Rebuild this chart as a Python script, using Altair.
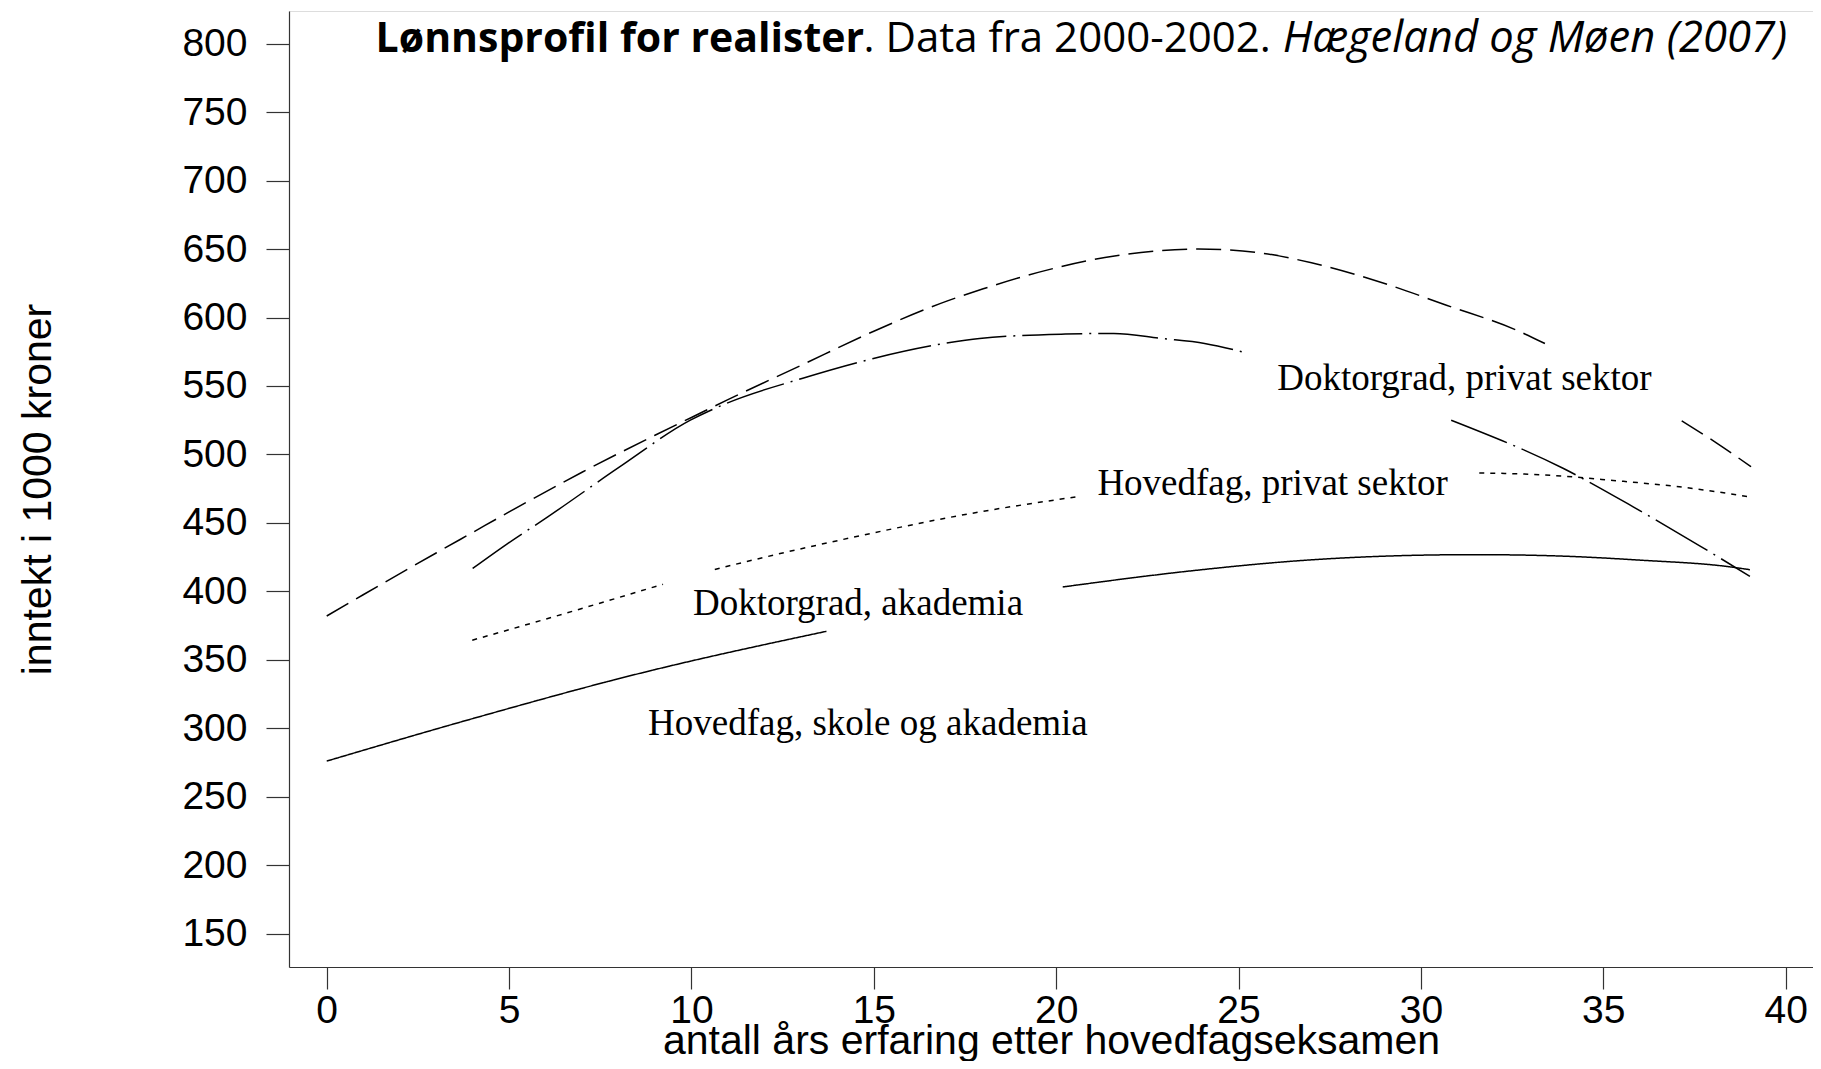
import altair as alt
import pandas as pd

# ---- curve A (long dashes), two visible pieces ----
a1_x = [0, 1, 3, 4, 5, 7, 9, 10, 11, 13, 15, 17, 18, 19.8, 21.6, 23.9, 25.5, 27, 29.1, 30.7, 32.6, 33.4]
a1_y = [382, 397.5, 428, 443, 458, 487, 514, 527, 540, 565, 590, 612, 621, 635, 645, 650, 647.5, 640, 624, 609, 591, 581]
a2_x = [37.15, 38.1, 39.05]
a2_y = [524.5, 508.5, 491]

# ---- curve B (dash-dot) ----
b1_x = [4.0, 4.96, 6.06, 8.01, 9.97, 10.95, 13.03, 14.99, 16.95, 17.9, 20.25, 21.58, 22.9, 24.07, 25.2]
b1_y = [416.7, 434.9, 454.4, 490.5, 525, 537.2, 555.5, 570.1, 581.1, 584.7, 587.9, 588.4, 584.7, 581.1, 574.2]
b2_x = [30.83, 33.91, 35.82, 37.69, 39.02]
b2_y = [525, 489.7, 461.7, 432.5, 411]

# ---- curve C (dotted) ----
c1_x = [3.99, 6.21, 9.22]
c1_y = [364.3, 381.3, 405.2]
c2_x = [10.64, 12.24, 14.07, 17.9, 20.55]
c2_y = [416, 426.4, 437.4, 458, 469]
c3_x = [31.6, 33.4, 35.27, 37.2, 39.02]
c3_y = [486.5, 485, 481, 476, 469]

# ---- curve D (solid) ----
d1_x = [0, 4.01, 8.57, 13.7]
d1_y = [276, 307.1, 340, 370.8]
d2_x = [20.18, 23.78, 26.72, 29.65, 31.5, 33.8, 36.0, 38.47, 39.02]
d2_y = [403.2, 415.2, 422.5, 426.2, 426.8, 425.8, 422.8, 417.9, 415.8]

# ---- in-plot labels ----
label_text = ["Doktorgrad, privat sektor", "Hovedfag, privat sektor",
              "Doktorgrad, akademia", "Hovedfag, skole og akademia"]
label_x = [26.06, 21.13, 10.04, 8.81]
label_y = [547, 470.2, 382.6, 295]

# ---- title pieces ----
title_text = ["Lønnsprofil for realister", ". Data fra 2000-2002.", "Hægeland og Møen (2007)"]
title_x = [1.34, 14.72, 26.21]
title_y = [794.2, 794.2, 794.2]

x_ticks = [0, 5, 10, 15, 20, 25, 30, 35, 40]
y_ticks = [150, 200, 250, 300, 350, 400, 450, 500, 550, 600, 650, 700, 750, 800]

pieces = [("A", 1, a1_x, a1_y), ("A", 2, a2_x, a2_y),
          ("B", 1, b1_x, b1_y), ("B", 2, b2_x, b2_y),
          ("C", 1, c1_x, c1_y), ("C", 2, c2_x, c2_y), ("C", 3, c3_x, c3_y),
          ("D", 1, d1_x, d1_y), ("D", 2, d2_x, d2_y)]
rows = []
for s, seg, xs, ys in pieces:
    for xv, yv in zip(xs, ys):
        rows.append({"serie": s, "key": f"{s}{seg}", "x": xv, "y": yv})
df = pd.DataFrame(rows)

lab = pd.DataFrame({"t": label_text, "x": label_x, "y": label_y})
tit = pd.DataFrame({"t": title_text, "x": title_x, "y": title_y, "i": [0, 1, 2]})

xsc = alt.Scale(domain=[-1.034, 40.75], nice=False, zero=False)
ysc = alt.Scale(domain=[125.6, 823.9], nice=False, zero=False)

axis_common = dict(grid=False, domainColor="#333333", tickColor="#333333",
                   domainWidth=1.2, tickWidth=1.2, labelColor="black", titleColor="black",
                   labelFont="Liberation Sans", labelFontSize=39,
                   titleFont="Liberation Sans", titleFontSize=41,
                   titleFontWeight="normal", labelFlush=False, labelOverlap=False)

lines = alt.Chart(df).mark_line(color="black", strokeWidth=1.5, interpolate="monotone").encode(
    x=alt.X("x:Q", scale=xsc, axis=alt.Axis(values=x_ticks, title="antall års erfaring etter hovedfagseksamen",
                                            tickSize=22, labelPadding=2, titleBaseline="alphabetic",
                                            titleY=86, **axis_common)),
    y=alt.Y("y:Q", scale=ysc, axis=alt.Axis(values=y_ticks, title="inntekt i 1000 kroner",
                                            tickSize=23, labelPadding=19, titleBaseline="alphabetic",
                                            titleX=-239, titleY=478, **axis_common)),
    strokeDash=alt.StrokeDash("serie:N", scale=alt.Scale(domain=["A", "B", "C", "D"],
                              range=[[25, 9], [60, 7, 2, 7], [5, 6], [1, 0]]), legend=None),
    detail="key:N",
    order="x:Q",
)

labels = alt.Chart(lab).mark_text(align="left", baseline="alphabetic", font="Liberation Serif",
                                  fontSize=37, color="black").encode(
    x=alt.X("x:Q", scale=xsc), y=alt.Y("y:Q", scale=ysc), text="t:N")

t_bold = alt.Chart(tit).transform_filter("datum.i == 0").mark_text(
    align="left", baseline="alphabetic", font="Open Sans", fontSize=41, fontWeight="bold", color="black").encode(
    x=alt.X("x:Q", scale=xsc), y=alt.Y("y:Q", scale=ysc), text="t:N")
t_norm = alt.Chart(tit).transform_filter("datum.i == 1").mark_text(
    align="left", baseline="alphabetic", font="Open Sans", fontSize=42, color="black").encode(
    x=alt.X("x:Q", scale=xsc), y=alt.Y("y:Q", scale=ysc), text="t:N")
t_ital = alt.Chart(tit).transform_filter("datum.i == 2").mark_text(
    align="left", baseline="alphabetic", font="Open Sans", fontSize=43.5, fontStyle="italic", color="black").encode(
    x=alt.X("x:Q", scale=xsc), y=alt.Y("y:Q", scale=ysc), text="t:N")

chart = alt.layer(lines, labels, t_bold, t_norm, t_ital).properties(
    width=1524, height=956,
    autosize=alt.AutoSizeParams(type="none"),
    padding={"left": 281, "top": 3, "right": 0, "bottom": 94},
).configure_view(stroke=None).configure(background="white")

chart.save("out.html", embed_options={"renderer": "svg", "actions": False})
